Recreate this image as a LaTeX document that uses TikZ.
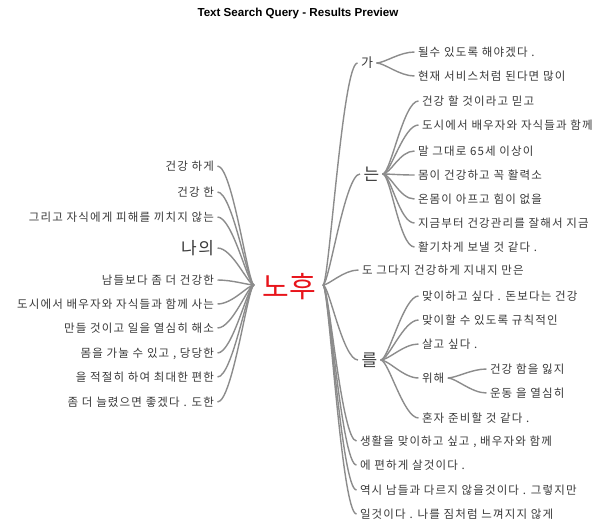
\documentclass[tikz,border=0pt]{standalone}
\usepackage{fontspec}
\newfontfamily\kr{Noto Sans CJK KR}[LetterSpace=10]
\newfontfamily\krr{Noto Sans CJK KR}
\newfontfamily\ttl{Liberation Sans}
\definecolor{txt}{HTML}{3A3A3A}
\definecolor{ln}{HTML}{8C8C8C}
\definecolor{rootred}{HTML}{E8141B}
\tikzset{
  lf/.style={font=\kr\fontsize{11.5}{13}\selectfont, text=txt, inner sep=1.5pt, outer sep=2pt, text height=9.8pt, text depth=1.5pt},
  lfL/.style={lf, anchor=east},
  lfR/.style={lf, anchor=west},
  bigR/.style={font=\kr\fontsize{17}{20}\selectfont, text=txt, inner sep=1.5pt, outer sep=2pt, anchor=west},
  bigL/.style={font=\kr\fontsize{17}{20}\selectfont, text=txt, inner sep=1.5pt, outer sep=2pt, anchor=east},
  conn/.style={draw=ln, line width=1.4pt},
}
\begin{document}
\begin{tikzpicture}[x=1pt,y=-1pt]
\path[fill=white, use as bounding box] (0,0) rectangle (596,521);
\node[font=\ttl\bfseries\fontsize{11.6}{13}\selectfont, text=black] (title) at (298,14) {Text Search Query - Results Preview};

% root
\node[font=\krr\fontsize{29}{33}\selectfont, text=rootred, inner sep=0pt] (root) at (289,287) {노후};
\coordinate (rL) at (254,285);
\coordinate (rR) at (323,285);

% left leaves
\node[lfL] (L1) at (217.5,166) {건강 하게};
\node[lfL] (L2) at (217.5,192) {건강 한};
\node[lfL] (L3) at (217.5,217) {그리고 자식에게 피해를 끼치지 않는};
\node[bigL] (L4) at (217.5,248) {나의};
\node[lfL] (L5) at (217.5,280) {남들보다 좀 더 건강한};
\node[lfL] (L6) at (217.5,304) {도시에서 배우자와 자식들과 함께 사는};
\node[lfL] (L7) at (217.5,328) {만들 것이고 일을 열심히 해소};
\node[lfL] (L8) at (217.5,353) {몸을 가눌 수 있고 , 당당한};
\node[lfL] (L9) at (217.5,377) {을 적절히 하여 최대한 편한};
\node[lfL] (L10) at (217.5,402) {좀 더 늘렸으면 좋겠다 . 도한};
\foreach \n in {L1,L2,L3,L4,L5,L6,L7,L8,L9,L10}
  \draw[conn] (\n.east) .. controls +(15,0) and +(-6,0) .. (rL);

% right level 1
\node[font=\kr\fontsize{13}{15}\selectfont, text=txt, inner sep=1.5pt, outer sep=2pt, anchor=west] (R1) at (357.5,63) {가};
\node[bigR] (R2) at (360,174) {는};
\node[lfR] (R3) at (358.5,270) {도 그다지 건강하게 지내지 만은};
\node[bigR] (R4) at (358,360) {를};
\node[lfR] (R5) at (356.5,441) {생활을 맞이하고 싶고 , 배우자와 함께};
\node[lfR] (R6) at (356.5,465) {에 편하게 살것이다 .};
\node[lfR] (R7) at (356.5,490) {역시 남들과 다르지 않을것이다 . 그렇지만};
\node[lfR] (R8) at (356.5,514) {일것이다 . 나를 짐처럼 느껴지지 않게};
\foreach \n in {R1,R2,R3,R4,R5,R6,R7,R8}
  \draw[conn] (rR) .. controls +(6,0) and +(-15,0) .. (\n.west);

% 가 children
\node[lfR] (A1) at (414.5,52) {될수 있도록 해야겠다 .};
\node[lfR] (A2) at (414.5,76) {현재 서비스처럼 된다면 많이};
\foreach \n in {A1,A2}
  \draw[conn] (R1.east) .. controls +(8,0) and +(-15,0) .. (\n.west);

% 는 children
\node[lfR] (B1) at (418.5,101) {건강 할 것이라고 믿고};
\node[lfR] (B2) at (418.5,125) {도시에서 배우자와 자식들과 함께};
\node[lfR] (B3) at (414.5,151) {말 그대로 65세 이상이};
\node[lfR] (B4) at (414.5,175) {몸이 건강하고 꼭 활력소};
\node[lfR] (B5) at (414.5,199) {온몸이 아프고 힘이 없을};
\node[lfR] (B6) at (414.5,223) {지금부터 건강관리를 잘해서 지금};
\node[lfR] (B7) at (414.5,247) {활기차게 보낼 것 같다 .};
\foreach \n in {B1,B2,B3,B4,B5,B6,B7}
  \draw[conn] (R2.east) .. controls +(8,0) and +(-15,0) .. (\n.west);

% 를 children
\node[lfR] (C1) at (418.5,296) {맞이하고 싶다 . 돈보다는 건강};
\node[lfR] (C2) at (418.5,320) {맞이할 수 있도록 규칙적인};
\node[lfR] (C3) at (418.5,344) {살고 싶다 .};
\node[lfR] (C4) at (418.5,378) {위해};
\node[lfR] (C5) at (418.5,418) {혼자 준비할 것 같다 .};
\foreach \n in {C1,C2,C3,C4,C5}
  \draw[conn] (R4.east) .. controls +(8,0) and +(-15,0) .. (\n.west);

% 위해 children
\node[lfR] (D1) at (486.5,369) {건강 함을 잃지};
\node[lfR] (D2) at (486.5,393) {운동 을 열심히};
\foreach \n in {D1,D2}
  \draw[conn] (C4.east) .. controls +(8,0) and +(-15,0) .. (\n.west);
\end{tikzpicture}
\end{document}
